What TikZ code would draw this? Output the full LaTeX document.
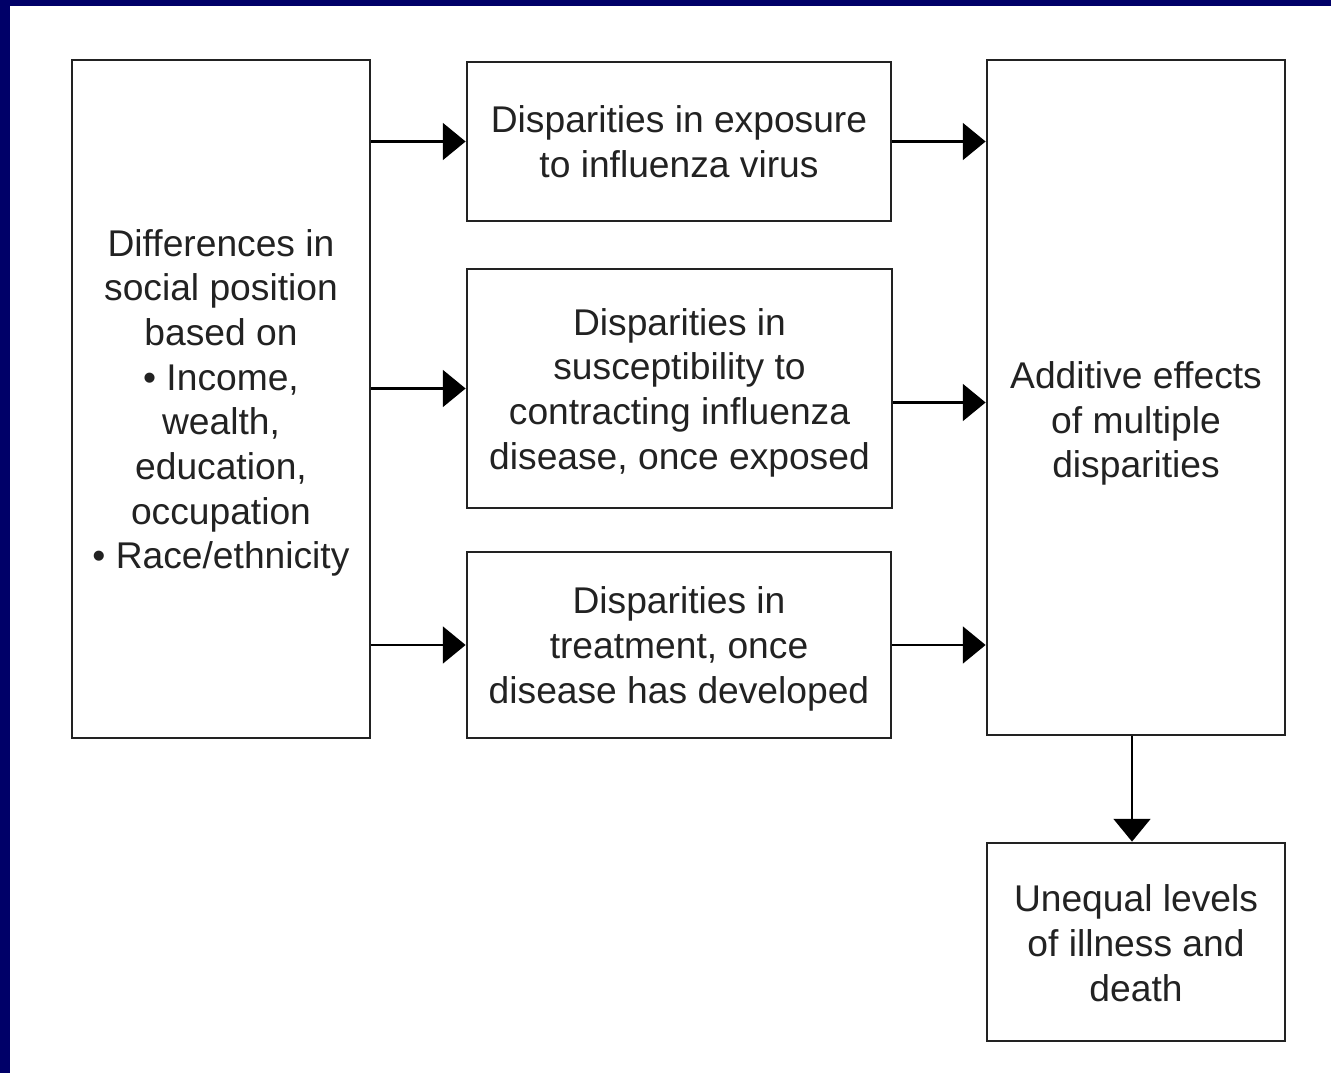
\documentclass[tikz,border=0pt]{standalone}
\usepackage{fontspec}
\setmainfont{Liberation Sans}
\usetikzlibrary{arrows.meta}
\definecolor{navy}{RGB}{0,0,104}
\definecolor{ink}{RGB}{34,34,34}
\begin{document}
\begin{tikzpicture}[x=0.75pt,y=-0.75pt,
  box/.style={draw=ink, line width=2.1pt, inner sep=0pt},
  txt/.style={align=center, text=ink, inner sep=0pt, font=\fontsize{27.9}{33.5}\selectfont},
  arr/.style={draw=black, line width=1.7pt, -{Triangle[length=17pt,width=27.5pt]}}]
\fill[white] (0,0) rectangle (1331,1073);
\fill[navy] (0,0) rectangle (10,1073);
\fill[navy] (0,0) rectangle (1331,6);
\useasboundingbox (0,0) rectangle (1331,1073);

\node[box, minimum width=223.5pt, minimum height=508.5pt] (L) at (221,399) {};
\node[txt] (Lt) at ([yshift=-3pt]L.center)
  {Differences in\\social position\\based on\\\textbullet\ Income,\\wealth,\\education,\\occupation\\\textbullet\ Race/ethnicity};
\node[box, minimum width=318pt, minimum height=119.25pt] (A) at (679,141.5) {};
\node[txt] (At) at ([yshift=0pt]A.center) {Disparities in exposure\\to influenza virus};
\node[box, minimum width=318.75pt, minimum height=179.25pt] (B) at (679.5,388.5) {};
\node[txt] (Bt) at ([yshift=-3pt]B.center)
  {Disparities in\\susceptibility to\\contracting influenza\\disease, once exposed};
\node[box, minimum width=318pt, minimum height=139.5pt] (C) at (679,645) {};
\node[txt] (Ct) at ([yshift=-3pt]C.center) {Disparities in\\treatment, once\\disease has developed};
\node[box, minimum width=223.5pt, minimum height=506.25pt] (R) at (1136,397.5) {};
\node[txt] (Rt) at ([yshift=-19.5pt]R.center) {Additive effects\\of multiple\\disparities};
\node[box, minimum width=223.5pt, minimum height=148.5pt] (U) at (1136,942) {};
\node[txt] (Ut) at ([yshift=-0.8pt]U.center) {Unequal levels\\of illness and\\death};

\draw[arr] (L.east |- A.west) -- (A.west);
\draw[arr] (L.east |- B.west) -- (B.west);
\draw[arr] (L.east |- C.west) -- (C.west);
\draw[arr] (A.east) -- (A.east -| R.west);
\draw[arr] ([yshift=-10.5pt]B.east) -- ([yshift=-10.5pt]B.east -| R.west);
\draw[arr] (C.east) -- (C.east -| R.west);
\draw[arr] ([xshift=-3pt]R.south) -- ([xshift=-3pt]U.north);
\end{tikzpicture}
\end{document}
